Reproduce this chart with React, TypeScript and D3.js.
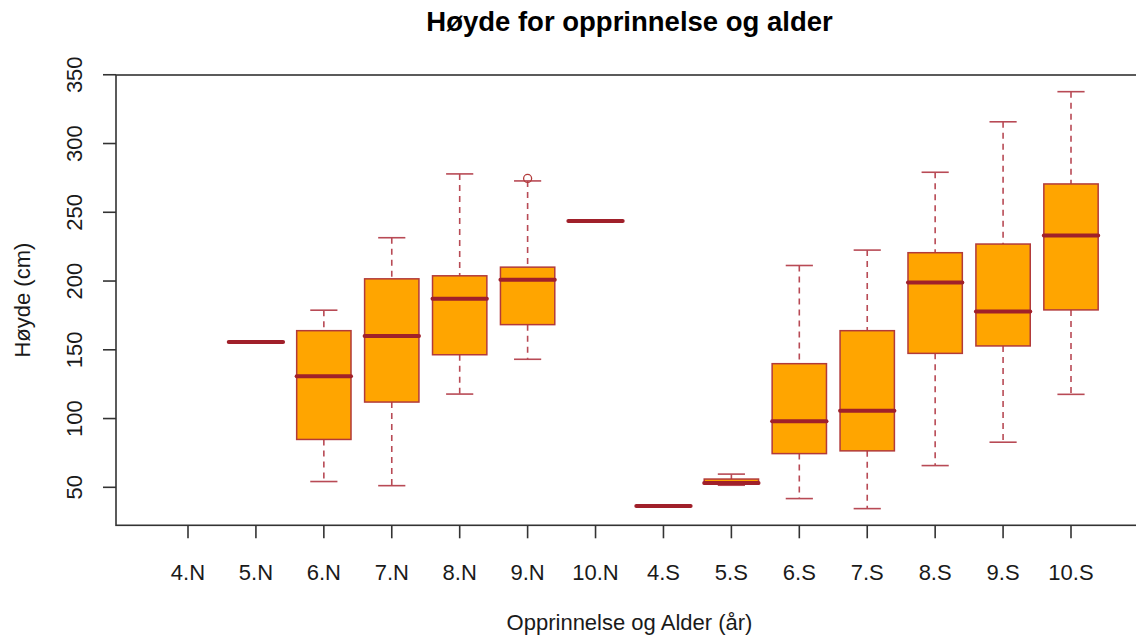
import React from "react";
import * as d3 from "d3";

const categories = ["4.N", "5.N", "6.N", "7.N", "8.N", "9.N", "10.N", "4.S", "5.S", "6.S", "7.S", "8.S", "9.S", "10.S"];
const lowerWhisker: (number | null)[] = [null, 155.7, 54.2, 51.2, 117.8, 143.1, 243.6, 36.4, 51.5, 41.8, 34.5, 65.8, 82.8, 117.6];
const q1: (number | null)[] = [null, 155.7, 84.8, 112, 146.4, 168.3, 243.6, 36.4, 52.4, 74.5, 76.5, 147.4, 152.8, 179];
const median: (number | null)[] = [null, 155.7, 130.7, 160, 187.2, 200.9, 243.6, 36.4, 53.2, 98.1, 105.6, 198.9, 177.8, 233.2];
const q3: (number | null)[] = [null, 155.7, 163.9, 201.6, 203.8, 210.1, 243.6, 36.4, 56, 139.9, 163.9, 220.6, 226.9, 270.6];
const upperWhisker: (number | null)[] = [null, 155.7, 178.8, 231.5, 277.9, 272.8, 243.6, 36.4, 59.6, 211.3, 222.5, 279.1, 315.8, 337.7];
const outlierCategory = ["9.N"];
const outlierValue = [274.6];
const yTicks = [50, 100, 150, 200, 250, 300, 350];

const W = 1136;
const H = 637;
const plot = { left: 116, right: 1143, top: 75, bottom: 525.3 };
const FILL = "#FFA500";
const BORDER = "#B23A3A";
const WHISK = "#B84A55";
const MED = "#A0202A";
const AXIS = "#333333";
const TEXT = "#1a1a1a";
const FONT = "'Liberation Sans', Arial, sans-serif";

export default function App() {
  const n = categories.length;
  const xPad = n * 0.04;
  const x = d3.scaleLinear().domain([0.5 - xPad, n + 0.5 + xPad]).range([plot.left, plot.right]);

  const all: number[] = [];
  [lowerWhisker, upperWhisker].forEach((arr) => arr.forEach((v) => v != null && all.push(v)));
  outlierValue.forEach((v) => all.push(v));
  const lo = d3.min(all) as number;
  const hi = d3.max(all) as number;
  const yPad = (hi - lo) * 0.04;
  const y = d3.scaleLinear().domain([lo - yPad, hi + yPad]).range([plot.bottom, plot.top]);

  const halfBox = 0.4;
  const halfStaple = 0.2;

  return (
    <svg width={W} height={H} style={{ position: "absolute", left: 0, top: 0, background: "#fff" }} fontFamily={FONT}>
      <text x={(plot.left + plot.right) / 2} y={31} textAnchor="middle" fontSize={27.5} fontWeight="bold" fill="#000">
        Høyde for opprinnelse og alder
      </text>

      {categories.map((c, i) => {
        const m = median[i];
        if (m == null) return null;
        const cx = x(i + 1);
        const l = lowerWhisker[i] as number;
        const a = q1[i] as number;
        const b = q3[i] as number;
        const u = upperWhisker[i] as number;
        return (
          <g key={c}>
            <line x1={cx} x2={cx} y1={y(u)} y2={y(b)} stroke={WHISK} strokeWidth={1.6} strokeDasharray="6,5" />
            <line x1={cx} x2={cx} y1={y(a)} y2={y(l)} stroke={WHISK} strokeWidth={1.6} strokeDasharray="6,5" />
            <line x1={x(i + 1 - halfStaple)} x2={x(i + 1 + halfStaple)} y1={y(u)} y2={y(u)} stroke={WHISK} strokeWidth={1.6} />
            <line x1={x(i + 1 - halfStaple)} x2={x(i + 1 + halfStaple)} y1={y(l)} y2={y(l)} stroke={WHISK} strokeWidth={1.6} />
            <rect
              x={x(i + 1 - halfBox)}
              y={y(b)}
              width={x(i + 1 + halfBox) - x(i + 1 - halfBox)}
              height={Math.max(0, y(a) - y(b))}
              fill={FILL}
              stroke={BORDER}
              strokeWidth={1.5}
            />
            <line x1={x(i + 1 - halfBox)} x2={x(i + 1 + halfBox)} y1={y(m)} y2={y(m)} stroke={MED} strokeWidth={4} strokeLinecap="round" />
          </g>
        );
      })}

      {outlierCategory.map((c, k) => {
        const i = categories.indexOf(c);
        return <circle key={"o" + k} cx={x(i + 1)} cy={y(outlierValue[k])} r={4} fill="none" stroke={BORDER} strokeWidth={1.3} />;
      })}

      <rect x={plot.left} y={plot.top} width={plot.right - plot.left} height={plot.bottom - plot.top} fill="none" stroke={AXIS} strokeWidth={1.6} />

      {yTicks.map((t) => (
        <g key={"y" + t}>
          <line x1={plot.left - 13} x2={plot.left} y1={y(t)} y2={y(t)} stroke={AXIS} strokeWidth={1.6} />
          <text transform={`translate(${82},${y(t)}) rotate(-90)`} textAnchor="middle" fontSize={22} fill={TEXT}>
            {t}
          </text>
        </g>
      ))}

      {categories.map((c, i) => (
        <g key={"x" + c}>
          <line x1={x(i + 1)} x2={x(i + 1)} y1={plot.bottom} y2={plot.bottom + 13} stroke={AXIS} strokeWidth={1.6} />
          <text x={x(i + 1)} y={580} textAnchor="middle" fontSize={22} fill={TEXT}>
            {c}
          </text>
        </g>
      ))}

      <text x={(plot.left + plot.right) / 2} y={630} textAnchor="middle" fontSize={22} fill={TEXT}>
        Opprinnelse og Alder (år)
      </text>
      <text transform={`translate(${29.5},${(plot.top + plot.bottom) / 2}) rotate(-90)`} textAnchor="middle" fontSize={22} fill={TEXT}>
        Høyde (cm)
      </text>
    </svg>
  );
}
